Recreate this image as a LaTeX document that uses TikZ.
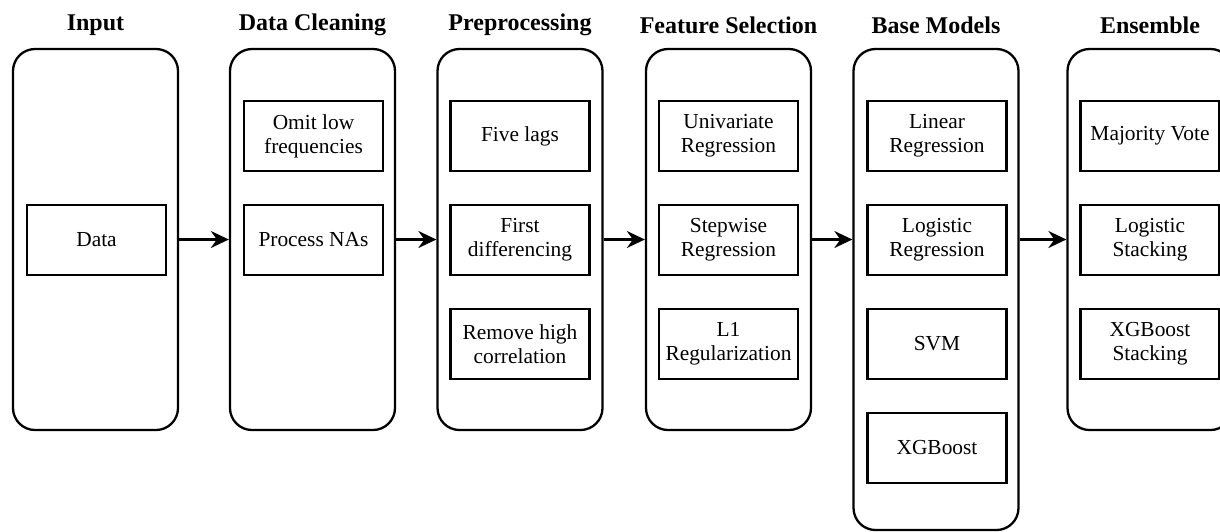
\documentclass[tikz,border=0pt]{standalone}
\usepackage{fontspec}
\setmainfont{Liberation Serif}
\usetikzlibrary{arrows.meta}
\begin{document}
\begin{tikzpicture}[x=1pt,y=-1pt,
  stage/.style={draw, line width=2.3pt, rounded corners=22pt, minimum width=165pt, inner sep=0pt},
  item/.style={draw, line width=2.2pt, minimum width=139pt, minimum height=70pt, inner sep=0pt, align=center, font=\fontsize{21.4}{24}\selectfont},
  ttl/.style={font=\fontsize{24}{28}\selectfont\bfseries, inner sep=0pt},
  flow/.style={line width=2.2pt, -{Stealth[length=18pt,width=17pt,inset=6pt]}}]
\useasboundingbox (0,0) rectangle (1220,531);
\clip (0,0) rectangle (1220,531);
% containers
\node[stage, minimum height=381pt] (in) at (95.5,239.5) {};
\node[stage, minimum height=381pt] (dc) at (312.5,239.5) {};
\node[stage, minimum height=381pt] (pp) at (520,239.5) {};
\node[stage, minimum height=381pt] (fs) at (728.5,239.5) {};
\node[stage, minimum height=481pt] (bm) at (936,289.5) {};
\node[stage, minimum height=381pt] (en) at (1150,239.5) {};
% titles
\node[ttl] (tin) at (95.5,25) {Input};
\node[ttl] (tdc) at (312.5,25) {Data Cleaning};
\node[ttl] (tpp) at (520,25) {Preprocessing};
\node[ttl] (tfs) at (728.5,25) {Feature Selection};
\node[ttl] (tbm) at (936,25) {Base Models};
\node[ttl] (ten) at (1150,25) {Ensemble};
% items
\node[item] (data) at (96.5,240) {Data};
\node[item] (omit) at (313.5,136) {Omit low\\frequencies};
\node[item] (nas) at (313.5,240) {Process NAs};
\node[item] (lags) at (520,136) {Five lags};
\node[item] (diff) at (520,240) {First\\differencing};
\node[item] (corr) at (520,344) {Remove high\\correlation};
\node[item] (uni) at (728.5,136) {Univariate\\Regression};
\node[item] (step) at (728.5,240) {Stepwise\\Regression};
\node[item] (lone) at (728.5,344) {L1\\Regularization};
\node[item] (lin) at (937,136) {Linear\\Regression};
\node[item] (logr) at (937,240) {Logistic\\Regression};
\node[item] (svm) at (937,344) {SVM};
\node[item] (xgb) at (937,448) {XGBoost};
\node[item] (vote) at (1150,136) {Majority Vote};
\node[item] (lstack) at (1150,240) {Logistic\\Stacking};
\node[item] (xstack) at (1150,344) {XGBoost\\Stacking};
% arrows
\draw[flow] (in.east) -- (dc.west);
\draw[flow] (dc.east) -- (pp.west);
\draw[flow] (pp.east) -- (fs.west);
\draw[flow] (fs.east) -- (fs.east -| bm.west);
\draw[flow] (bm.east |- en.west) -- (en.west);
\end{tikzpicture}
\end{document}
